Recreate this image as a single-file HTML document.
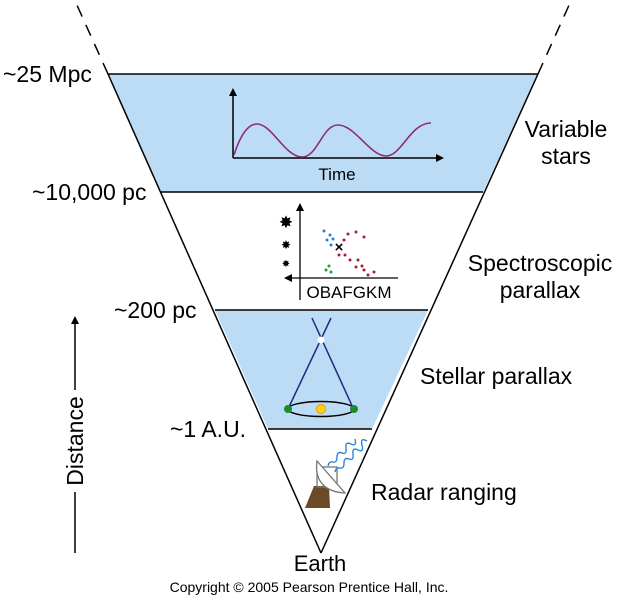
<!DOCTYPE html>
<html><head><meta charset="utf-8"><style>
html,body{margin:0;padding:0;background:#fff;}
svg{display:block;font-family:"Liberation Sans",Arial,sans-serif;}
</style></head><body>
<svg width="621" height="599" viewBox="0 0 621 599">
<defs><marker id="ah" markerWidth="8" markerHeight="8" refX="6" refY="4" orient="auto" markerUnits="userSpaceOnUse"><path d="M0,0 L8,4 L0,8 Z" fill="#000"/></marker></defs>
<polygon points="108,74 538,74 483,192 161,192" fill="#bcdcf5"/>
<polygon points="215,310 428,310 372,429 268,429" fill="#bcdcf5"/>
<line x1="108" y1="74" x2="538" y2="74" stroke="#000" stroke-width="1.5"/>
<line x1="161" y1="192" x2="483" y2="192" stroke="#000" stroke-width="1.5"/>
<line x1="215" y1="310" x2="428" y2="310" stroke="#000" stroke-width="1.5"/>
<line x1="268" y1="429" x2="372" y2="429" stroke="#000" stroke-width="1.5"/>
<line x1="108" y1="74" x2="321" y2="553" stroke="#000" stroke-width="1.5"/>
<line x1="538" y1="74" x2="321" y2="553" stroke="#000" stroke-width="1.5"/>
<line x1="108" y1="74" x2="76" y2="3" stroke="#000" stroke-width="1.5" stroke-dasharray="12,9"/>
<line x1="538" y1="74" x2="570" y2="3" stroke="#000" stroke-width="1.5" stroke-dasharray="12,9"/>
<line x1="233" y1="158" x2="233" y2="90" stroke="#000" stroke-width="1.5" marker-end="url(#ah)"/>
<line x1="233" y1="158" x2="442" y2="158" stroke="#000" stroke-width="1.5" marker-end="url(#ah)"/>
<path d="M234,155 C242,130 250,124 257,124 C272,124 285,157 302,157 C318,157 322,125 338,125 C355,125 370,156 386,156 C402,156 410,123 431,123" fill="none" stroke="#8e2a7a" stroke-width="1.6"/>
<text x="337" y="180" font-size="17" text-anchor="middle">Time</text>
<line x1="300" y1="300" x2="300" y2="205" stroke="#000" stroke-width="1.3" marker-end="url(#ah)"/>
<line x1="398" y1="278" x2="286" y2="278" stroke="#000" stroke-width="1.3" marker-end="url(#ah)"/>
<text x="349" y="298" font-size="17" text-anchor="middle">OBAFGKM</text>
<text x="286" y="228" font-size="17" text-anchor="middle">✸</text>
<text x="286" y="249" font-size="12" text-anchor="middle">✸</text>
<text x="286" y="267" font-size="10" text-anchor="middle">✸</text>
<g fill="#2a7fd4"><circle cx="324" cy="231" r="1.5"/><circle cx="330" cy="235" r="1.5"/><circle cx="327" cy="240" r="1.5"/><circle cx="333" cy="239" r="1.5"/><circle cx="331" cy="245" r="1.5"/></g>
<g fill="#b0183a"><circle cx="348" cy="234" r="1.5"/><circle cx="356" cy="232" r="1.5"/><circle cx="364" cy="237" r="1.5"/><circle cx="344" cy="240" r="1.5"/><circle cx="339" cy="255" r="1.5"/><circle cx="345" cy="255" r="1.5"/><circle cx="350" cy="260" r="1.5"/><circle cx="358" cy="260" r="1.5"/><circle cx="356" cy="267" r="1.5"/><circle cx="362" cy="266" r="1.5"/><circle cx="364" cy="270" r="1.5"/><circle cx="374" cy="272" r="1.5"/><circle cx="368" cy="275" r="1.5"/></g>
<g fill="#2a9a3a"><circle cx="329" cy="266" r="1.5"/><circle cx="326" cy="270" r="1.5"/><circle cx="331" cy="272" r="1.5"/></g>
<text x="339" y="252" font-size="15" font-weight="bold" text-anchor="middle">×</text>
<line x1="312" y1="318" x2="354" y2="410" stroke="#1c2a80" stroke-width="1.5"/>
<line x1="331" y1="318" x2="288" y2="409" stroke="#1c2a80" stroke-width="1.5"/>
<circle cx="321" cy="340" r="3.5" fill="#fff"/>
<ellipse cx="321" cy="409" rx="33" ry="7.5" fill="none" stroke="#000" stroke-width="1.5"/>
<circle cx="321" cy="409" r="4.5" fill="#ffd21c" stroke="#f2a014" stroke-width="1.2"/>
<circle cx="288" cy="409" r="4" fill="#1e8a2e"/>
<circle cx="354" cy="409" r="4" fill="#1e8a2e"/>
<polygon points="314,486 329,486 330,508 305,508" fill="#6b4a2a"/>
<rect x="317" y="467" width="20" height="20" fill="none" stroke="#777" stroke-width="1.3"/>
<path d="M317,461 C314,482 326,492 345,493 L317,461 Z" fill="#fff" stroke="#777" stroke-width="1.3"/>
<path d="M328,466 q1,-5 5,-4 t4,-5 t5,-4 t4,-5 t5,-4 t4,-5" fill="none" stroke="#2a86d8" stroke-width="1.4"/>
<path d="M335,472 q1,-5 5,-4 t4,-5 t5,-4 t4,-5 t5,-4 t4,-5 t5,-4" fill="none" stroke="#2a86d8" stroke-width="1.4"/>
<line x1="75" y1="553" x2="75" y2="492" stroke="#000" stroke-width="1.5"/>
<line x1="75" y1="390" x2="75" y2="318" stroke="#000" stroke-width="1.5" marker-end="url(#ah)"/>
<text transform="translate(83,441) rotate(-90)" font-size="23" text-anchor="middle">Distance</text>
<g font-size="23">
<text x="3" y="82">~25 Mpc</text>
<text x="32" y="200">~10,000 pc</text>
<text x="114" y="318">~200 pc</text>
<text x="170" y="437">~1 A.U.</text>
<text x="566" y="137" text-anchor="middle">Variable</text>
<text x="566" y="164" text-anchor="middle">stars</text>
<text x="540" y="271" text-anchor="middle">Spectroscopic</text>
<text x="540" y="298" text-anchor="middle">parallax</text>
<text x="420" y="384">Stellar parallax</text>
<text x="371" y="500">Radar ranging</text>
</g>
<text x="320" y="571" font-size="22" text-anchor="middle">Earth</text>
<text x="309" y="592" font-size="14" text-anchor="middle">Copyright © 2005 Pearson Prentice Hall, Inc.</text>
</svg>
</body></html>
